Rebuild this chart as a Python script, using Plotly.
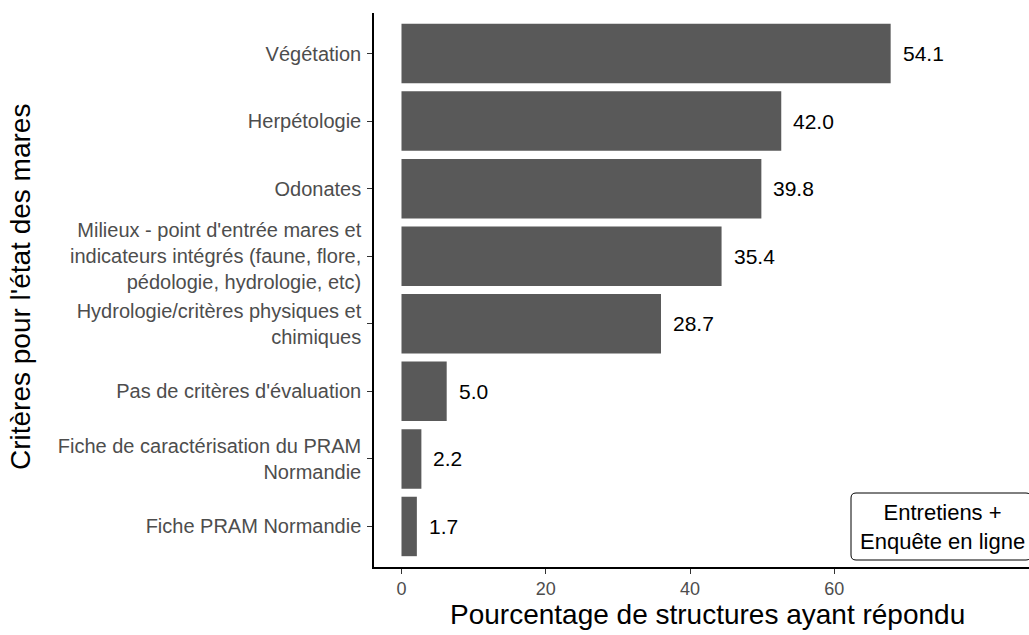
import plotly.graph_objects as go

# Données (de haut en bas)
criteres = [
    "Végétation",
    "Herpétologie",
    "Odonates",
    "Milieux - point d'entrée mares et<br>indicateurs intégrés (faune, flore,<br>pédologie, hydrologie, etc)",
    "Hydrologie/critères physiques et<br>chimiques",
    "Pas de critères d'évaluation",
    "Fiche de caractérisation du PRAM<br>Normandie",
    "Fiche PRAM Normandie",
]
pourcentages = [54.1, 42.0, 39.8, 35.4, 28.7, 5.0, 2.2, 1.7]
x_ticks = [0, 20, 40, 60]

W, H = 1029, 635
L, R, T, B = 374, 0, 13, 68
FONT = "Liberation Sans, Arial, sans-serif"

# pixel -> paper helpers for the label box
pw, ph = W - L - R, H - T - B
def px(x):
    return (x - L) / pw
def py(y):
    return (H - B - y) / ph

fig = go.Figure()

# helper (no marks) so that the tick axis gets drawn
fig.add_trace(go.Scatter(x=[x_ticks[0], x_ticks[-1]], y=[criteres[0], criteres[0]],
                         mode="none", xaxis="x", yaxis="y", hoverinfo="skip"))

fig.add_trace(go.Bar(
    x=pourcentages, y=criteres, orientation="h",
    marker=dict(color="#595959", line=dict(width=0)),
    width=0.88, xaxis="x2", yaxis="y",
    hoverinfo="skip",
))

# value labels next to bars
for c, v in zip(criteres, pourcentages):
    fig.add_annotation(x=v, y=c, xref="x2", yref="y", text=f"{v:.1f}",
                       showarrow=False, xanchor="left", yanchor="middle", xshift=10,
                       font=dict(family=FONT, size=21, color="black"))

fig.update_layout(
    width=W, height=H,
    margin=dict(l=L, r=R, t=T, b=B, autoexpand=False),
    paper_bgcolor="white", plot_bgcolor="white",
    showlegend=False,
    font=dict(family=FONT),
    xaxis=dict(
        range=[-3.81, 87.0], tickvals=x_ticks, showgrid=False, zeroline=False,
        showline=True, linecolor="black", linewidth=1.5,
        ticks="outside", ticklen=5, tickcolor="#333333", tickwidth=1.2,
        tickfont=dict(family=FONT, size=18, color="#4D4D4D"),
        ticklabelstandoff=0,
    ),
    xaxis2=dict(
        range=[-3.04, 69.4], overlaying="x", visible=False,
    ),
    yaxis=dict(
        type="category", categoryorder="array", categoryarray=criteres,
        range=[7.6, -0.6], showgrid=False, zeroline=False,
        showline=True, linecolor="black", linewidth=1.5,
        ticks="outside", ticklen=5, tickcolor="#333333", tickwidth=1.2,
        tickfont=dict(family=FONT, size=20, color="#4D4D4D"),
        ticklabelstandoff=2,
    ),
)

# axis titles
fig.add_annotation(x=px(707), y=py(614), xref="paper", yref="paper",
                   xanchor="center", yanchor="middle",
                   text="Pourcentage de structures ayant répondu", showarrow=False,
                   font=dict(family=FONT, size=28, color="black"))
fig.add_annotation(x=px(20), y=py(287), xref="paper", yref="paper",
                   xanchor="center", yanchor="middle",
                   text="Critères pour l'état des mares", showarrow=False, textangle=-90,
                   font=dict(family=FONT, size=28, color="black"))

# rounded label box
x0, x1, y0, y1, r = px(851), px(1031), py(560), py(493), 5
rx, ry = r / pw, r / ph
path = (f"M {x0+rx},{y1} L {x1-rx},{y1} Q {x1},{y1} {x1},{y1-ry} "
        f"L {x1},{y0+ry} Q {x1},{y0} {x1-rx},{y0} L {x0+rx},{y0} "
        f"Q {x0},{y0} {x0},{y0+ry} L {x0},{y1-ry} Q {x0},{y1} {x0+rx},{y1} Z")
fig.add_shape(type="path", path=path, xref="paper", yref="paper",
              line=dict(color="black", width=1), fillcolor="white")
fig.add_annotation(x=px(942), y=py(527), xref="paper", yref="paper",
                   xanchor="center", yanchor="middle",
                   text="Entretiens +<br>Enquête en ligne", showarrow=False,
                   align="center", font=dict(family=FONT, size=22, color="black"))

fig.write_html("out.html", config={"displayModeBar": False},
               post_script="document.body.style.margin='0';")
